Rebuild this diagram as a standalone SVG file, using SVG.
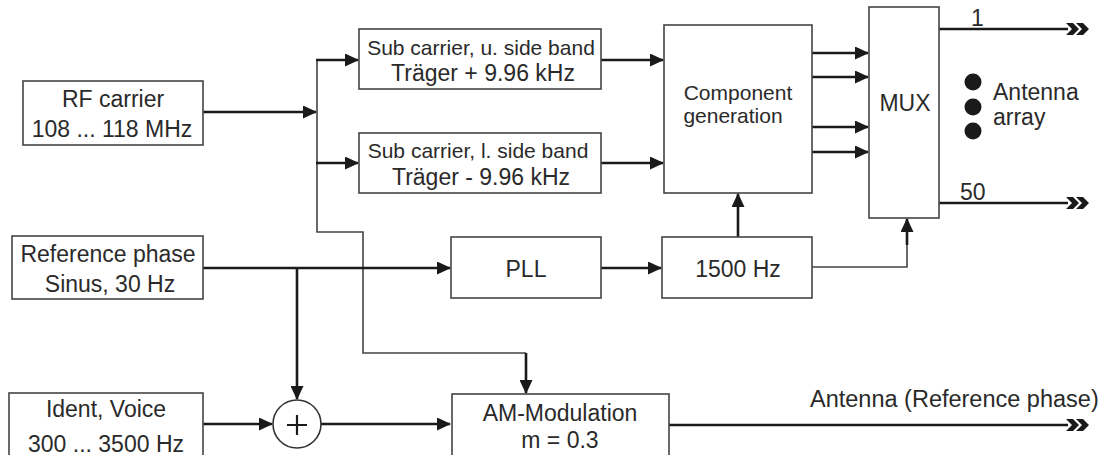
<svg xmlns="http://www.w3.org/2000/svg" width="1108" height="455" viewBox="0 0 1108 455">
<defs>
<style>
.box{fill:#fff;stroke:#444;stroke-width:1.6}
.t{font-family:"Liberation Sans",Arial,sans-serif;font-size:23px;fill:#2a2a2a;text-anchor:middle}
.s{font-size:21px}
.l{text-anchor:start}
.thick{fill:none;stroke:#1a1a1a;stroke-width:2.6}
.thin{fill:none;stroke:#444;stroke-width:1.6}
</style>
<marker id="arr" markerUnits="userSpaceOnUse" viewBox="0 0 14 13" refX="13" refY="6.5" markerWidth="14" markerHeight="13" orient="auto">
<path d="M0,0 L14,6.5 L0,13 Z" fill="#1a1a1a"/>
</marker>
<marker id="dbl" markerUnits="userSpaceOnUse" viewBox="0 -7 26 14" refX="2" refY="0" markerWidth="26" markerHeight="14" orient="auto">
<path d="M0,-6 L7,-6 L13,0 L7,6 L0,6 L6,0 Z M10,-6 L17,-6 L23,0 L17,6 L10,6 L16,0 Z" fill="#1a1a1a"/>
</marker>
</defs>
<rect width="1108" height="455" fill="#fff"/>

<g id="connectors">
<path class="thick" d="M203,112 H316" marker-end="url(#arr)"/>
<path class="thin" d="M317,60 V232 H363 V353 H526"/>
<path class="thick" d="M526,353 V393" marker-end="url(#arr)"/>
<path class="thick" d="M316,60 H358" marker-end="url(#arr)"/>
<path class="thick" d="M316,163 H358" marker-end="url(#arr)"/>
<path class="thick" d="M601,60 H663" marker-end="url(#arr)"/>
<path class="thick" d="M601,163 H663" marker-end="url(#arr)"/>
<path class="thick" d="M812,53 H868" marker-end="url(#arr)"/>
<path class="thick" d="M812,77 H868" marker-end="url(#arr)"/>
<path class="thick" d="M812,127 H868" marker-end="url(#arr)"/>
<path class="thick" d="M812,152 H868" marker-end="url(#arr)"/>
<path class="thick" d="M939,29 H1068" marker-end="url(#dbl)"/>
<path class="thick" d="M939,203 H1068" marker-end="url(#dbl)"/>
<path class="thick" d="M203,268 H450" marker-end="url(#arr)"/>
<path class="thick" d="M297,268 V399" marker-end="url(#arr)"/>
<path class="thick" d="M601,268 H661" marker-end="url(#arr)"/>
<path class="thick" d="M738,237 V194" marker-end="url(#arr)"/>
<path class="thin" d="M812,267 H907 V232"/>
<path class="thick" d="M907,245 V219" marker-end="url(#arr)"/>
<path class="thick" d="M203,424 H272" marker-end="url(#arr)"/>
<path class="thick" d="M321,424 H450" marker-end="url(#arr)"/>
<path class="thick" d="M669,425 H1068" marker-end="url(#dbl)"/>
</g>

<g id="rf">
<rect class="box" x="23" y="81" width="180" height="64"/>
<text class="t" x="113" y="107">RF carrier</text>
<text class="t" x="112" y="137">108 ... 118 MHz</text>
</g>
<g id="sub-upper">
<rect class="box" x="359" y="29" width="242" height="60"/>
<text class="t s" x="481" y="55">Sub carrier, u. side band</text>
<text class="t" x="483" y="81">Träger + 9.96 kHz</text>
</g>
<g id="sub-lower">
<rect class="box" x="359" y="133" width="242" height="60"/>
<text class="t s" x="478" y="158">Sub carrier, l. side band</text>
<text class="t" x="481" y="185">Träger - 9.96 kHz</text>
</g>
<g id="component">
<rect class="box" x="664" y="25" width="148" height="168"/>
<text class="t s" x="738" y="100">Component</text>
<text class="t s" x="733" y="123">generation</text>
</g>
<g id="mux">
<rect class="box" x="869" y="7" width="70" height="211"/>
<text class="t" x="905" y="111">MUX</text>
</g>
<g id="antenna-array">
<circle cx="973" cy="82" r="8.5" fill="#1a1a1a"/>
<circle cx="973" cy="107" r="8.5" fill="#1a1a1a"/>
<circle cx="973" cy="131" r="8.5" fill="#1a1a1a"/>
<text class="t l" x="993" y="100">Antenna</text>
<text class="t l" x="993" y="125">array</text>
<text class="t l" x="971" y="26">1</text>
<text class="t l" x="960" y="200">50</text>
</g>
<g id="refphase">
<rect class="box" x="12" y="236" width="191" height="63"/>
<text class="t" x="108" y="262">Reference phase</text>
<text class="t" x="110" y="292">Sinus, 30 Hz</text>
</g>
<g id="pll">
<rect class="box" x="451" y="237" width="150" height="61"/>
<text class="t" x="526" y="277">PLL</text>
</g>
<g id="f1500">
<rect class="box" x="662" y="237" width="150" height="61"/>
<text class="t" x="738" y="277">1500 Hz</text>
</g>
<g id="ident">
<rect class="box" x="9" y="393" width="194" height="70"/>
<text class="t" x="106" y="417">Ident, Voice</text>
<text class="t" x="106" y="452">300 ... 3500 Hz</text>
</g>
<g id="sum">
<circle cx="297" cy="424" r="24" fill="#fff" stroke="#333" stroke-width="1.6"/>
<path d="M287,425 H307 M297,415 V435" stroke="#1a1a1a" stroke-width="2.2"/>
</g>
<g id="am">
<rect class="box" x="452" y="394" width="217" height="70"/>
<text class="t" x="560" y="421">AM-Modulation</text>
<text class="t" x="560" y="448">m = 0.3</text>
</g>
<g id="out-label">
<text class="t l" x="810" y="407" style="font-size:23.5px">Antenna (Reference phase)</text>
</g>
</svg>
